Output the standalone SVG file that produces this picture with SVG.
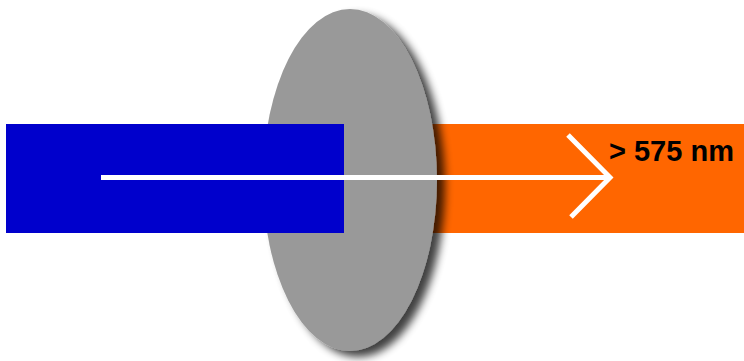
<svg xmlns="http://www.w3.org/2000/svg" width="744" height="361" viewBox="0 0 744 361">
  <defs>
    <filter id="shadow" x="-20%" y="-10%" width="150%" height="130%">
      <feGaussianBlur in="SourceAlpha" stdDeviation="4"/>
      <feOffset dx="8" dy="6" result="b"/>
      <feComponentTransfer><feFuncA type="linear" slope="0.75"/></feComponentTransfer>
      <feMerge><feMergeNode/><feMergeNode in="SourceGraphic"/></feMerge>
    </filter>
  </defs>
  <style>
    .beam { stroke: #ffffff; stroke-width: 5; fill: none; }
    .label { font-family: "Liberation Sans", Arial, sans-serif; font-weight: bold; font-size: 29px; fill: #000000; }
  </style>
  <rect width="744" height="361" fill="#ffffff"/>
  <g id="orange-beam">
    <rect x="430" y="124" width="314" height="109" fill="#ff6600"/>
  </g>
  <g id="filter-disc">
    <ellipse cx="350" cy="180" rx="87" ry="171" fill="#999999" filter="url(#shadow)"/>
  </g>
  <g id="blue-beam">
    <rect x="6" y="124" width="338" height="109" fill="#0000cc"/>
  </g>
  <g id="connectors">
    <line class="beam" x1="101" y1="177.5" x2="610" y2="177.5"/>
    <polyline class="beam" points="568,135 610,177.5 571,217"/>
  </g>
  <g id="label">
    <text class="label" x="609" y="161">&gt; 575 nm</text>
  </g>
</svg>
